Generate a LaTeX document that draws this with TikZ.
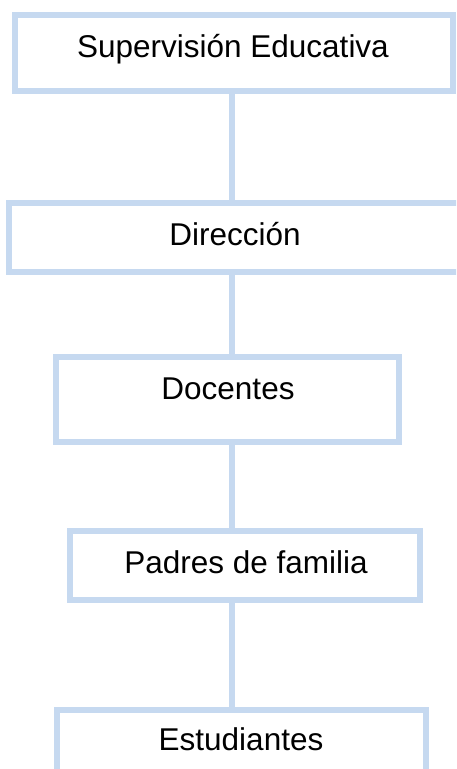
\documentclass[tikz,border=0pt]{standalone}
\usepackage{fontspec}
\setmainfont{Liberation Sans}
\definecolor{boxblue}{RGB}{198,217,240}
\begin{document}
\begin{tikzpicture}[x=1pt,y=-1pt,
  orgbox/.style={draw=boxblue,line width=6pt,rectangle,inner sep=0pt},
  lbl/.style={anchor=base,inner sep=0pt,font=\fontsize{31.5}{36}\selectfont},
  link/.style={draw=boxblue,line width=6pt}]
\useasboundingbox (0,0) rectangle (456,769);
\clip (0,0) rectangle (456,769);
% boxes
\node[orgbox,minimum width=438.5pt,minimum height=76.5pt] (b1) at (233.75,52.75) {};
\node[orgbox,minimum width=452pt,minimum height=69.5pt] (b2) at (235,237.5) {};
\node[orgbox,minimum width=343pt,minimum height=85pt] (b3) at (227.75,399.25) {};
\node[orgbox,minimum width=349.5pt,minimum height=68.5pt] (b4) at (245,565.5) {};
\node[orgbox,minimum width=368.5pt,minimum height=100pt] (b5) at (241.25,759.75) {};
% labels
\node[lbl] (t1) at (233,57.3) {Supervisión Educativa};
\node[lbl] (t2) at (235,245) {Dirección};
\node[lbl] (t3) at (228,399) {Docentes};
\node[lbl] (t4) at (246,573) {Padres de familia};
\node[lbl] (t5) at (241,750) {Estudiantes};
% connectors
\draw[link] (b1.south -| 232,0) -- (b2.north -| 232,0);
\draw[link] (b2.south -| 232,0) -- (b3.north -| 232,0);
\draw[link] (b3.south -| 232,0) -- (b4.north -| 232,0);
\draw[link] (b4.south -| 232,0) -- (b5.north -| 232,0);
\end{tikzpicture}
\end{document}
